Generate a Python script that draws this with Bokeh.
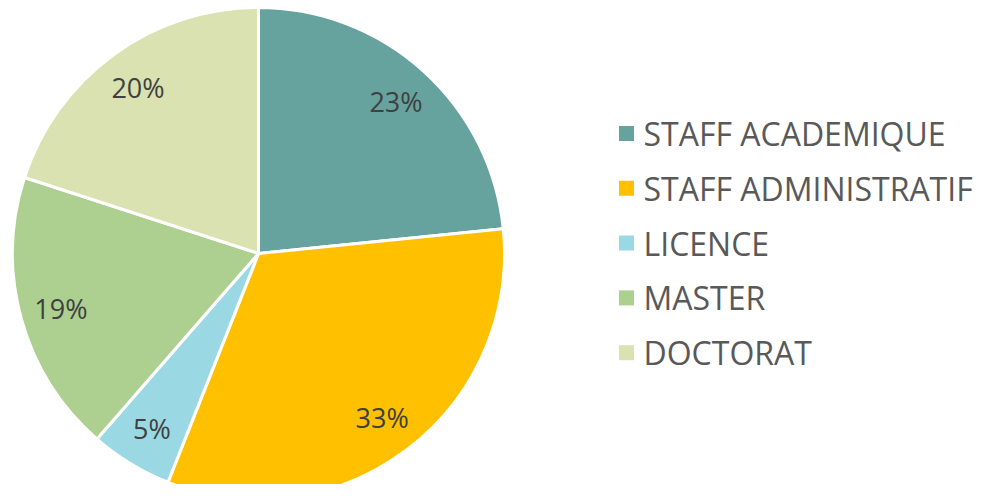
import math
from bokeh.plotting import figure
from bokeh.models import Range1d, ColumnDataSource
from bokeh.core.properties import value
from bokeh.embed import file_html
from bokeh.resources import INLINE

categories = ["STAFF ACADEMIQUE", "STAFF ADMINISTRATIF", "LICENCE", "MASTER", "DOCTORAT"]
shares = [23.4, 32.6, 5.4, 18.6, 20.0]
labels = ["23%", "33%", "5%", "19%", "20%"]
colors = ["#67A39E", "#FFC000", "#9AD9E3", "#ADD091", "#D9E2B0"]

W, H = 976, 484
# data units = reference pixels; y measured upward from bottom (500)
p = figure(width=W, height=H, output_backend="svg", toolbar_location=None,
           x_range=Range1d(0, W), y_range=Range1d(500 - H, 500),
           min_border=0)
p.axis.visible = False
p.grid.visible = False
p.outline_line_color = None
p.background_fill_color = "white"

cx, cy, R = 258, 500 - 253, 246
total = sum(shares)
starts, ends, lx, ly = [], [], [], []
acc = 0.0
for s in shares:
    a0 = math.pi / 2 - 2 * math.pi * acc / total
    a1 = math.pi / 2 - 2 * math.pi * (acc + s) / total
    starts.append(a0)
    ends.append(a1)
    mid = (a0 + a1) / 2
    lx.append(cx + 205 * math.cos(mid))
    ly.append(cy + 205 * math.sin(mid))
    acc += s

src = ColumnDataSource(dict(start=starts, end=ends, color=colors, lx=lx, ly=ly, label=labels))
p.wedge(x=cx, y=cy, radius=R, radius_units="screen", start_angle="start", end_angle="end",
        direction="clock", fill_color="color", line_color="white", line_width=3, source=src)
p.text(x="lx", y="ly", text="label", source=src, text_align="center", text_baseline="middle",
       text_font=value("Open Sans"), text_font_size="27px", text_color="#404040")

row0, step = 500 - 133, 54.8
leg = ColumnDataSource(dict(
    y=[row0 - i * step for i in range(len(categories))],
    name=categories, color=colors))
p.rect(x=626, y="y", width=15, height=15, width_units="screen", height_units="screen",
       fill_color="color", line_color=None, source=leg)
p.text(x=643, y="y", text="name", source=leg, text_align="left", text_baseline="middle",
       text_font=value("Open Sans"), text_font_size="32px", text_color="#595959")

open("out.html", "w").write(file_html(p, INLINE))
